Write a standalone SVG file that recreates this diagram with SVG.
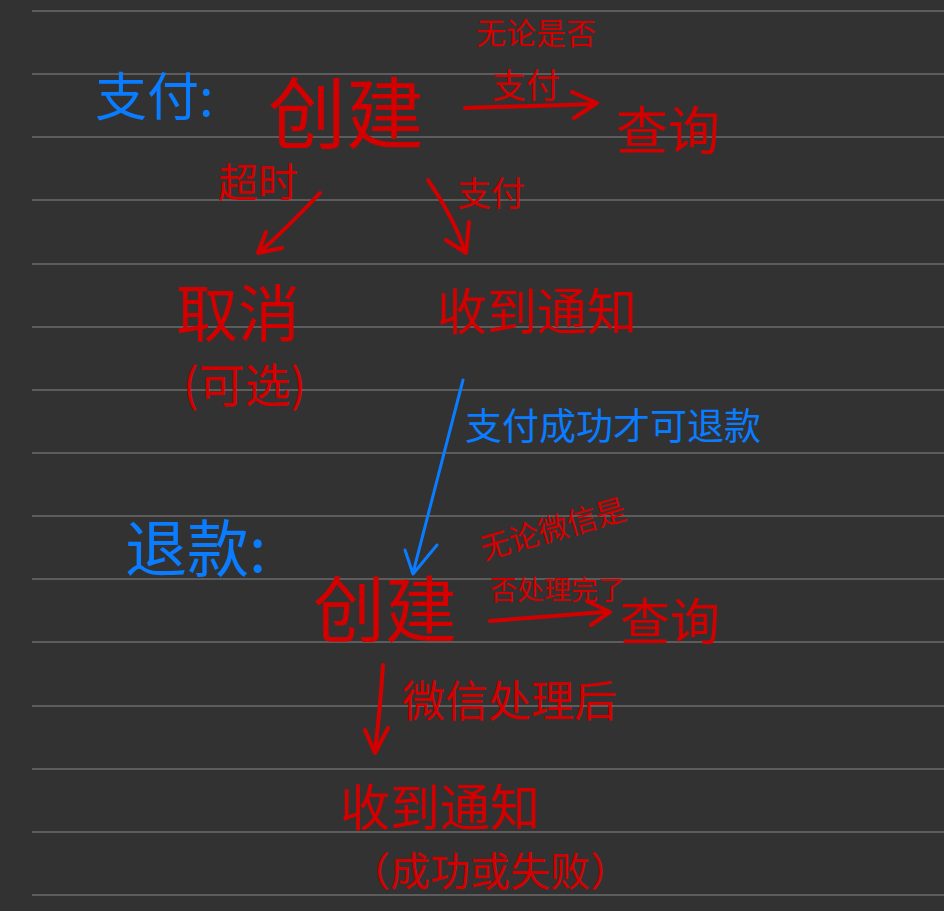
<svg xmlns="http://www.w3.org/2000/svg" width="944" height="911" viewBox="0 0 944 911">
<style>
.t{font-family:"Noto Sans CJK SC","Noto Sans",sans-serif;}
.r{fill:#d40000;}
.b{fill:#0a7cff;}
.rule{stroke:#5c5c5c;stroke-width:2;}
.cr{fill:none;stroke:#d40000;stroke-width:4;stroke-linecap:round;stroke-linejoin:round;}
.cb{fill:none;stroke:#0a7cff;stroke-width:3;stroke-linecap:round;stroke-linejoin:round;}
</style>
<rect width="944" height="911" fill="#323232"/>
<g id="ruling">
<line class="rule" x1="32" y1="11" x2="944" y2="11"/>
<line class="rule" x1="32" y1="74" x2="944" y2="74"/>
<line class="rule" x1="32" y1="137" x2="944" y2="137"/>
<line class="rule" x1="32" y1="200" x2="944" y2="200"/>
<line class="rule" x1="32" y1="264" x2="944" y2="264"/>
<line class="rule" x1="32" y1="327" x2="944" y2="327"/>
<line class="rule" x1="32" y1="390" x2="944" y2="390"/>
<line class="rule" x1="32" y1="453" x2="944" y2="453"/>
<line class="rule" x1="32" y1="516" x2="944" y2="516"/>
<line class="rule" x1="32" y1="579" x2="944" y2="579"/>
<line class="rule" x1="32" y1="642" x2="944" y2="642"/>
<line class="rule" x1="32" y1="706" x2="944" y2="706"/>
<line class="rule" x1="32" y1="769" x2="944" y2="769"/>
<line class="rule" x1="32" y1="832" x2="944" y2="832"/>
<line class="rule" x1="32" y1="895" x2="944" y2="895"/>
</g>
<g id="connectors">
<path class="cr" d="M465,108 L595,104 M572,92 L597,103 L574,118"/>
<path class="cr" d="M320,193 Q290,225 260,252 M266,232 L258,253 L282,248"/>
<path class="cr" d="M428,180 Q455,220 465,252 M446,240 L466,253 L469,222"/>
<path class="cb" d="M463,380 Q440,470 413,573 M405,550 L413,574 L437,545"/>
<path class="cr" d="M490,621 L605,612 M587,601 L610,612 L591,625"/>
<path class="cr" d="M383,665 Q380,710 375,752 M365,730 L375,753 L388,728"/>
</g>
<g id="pay-title"><text class="t b" x="95" y="116" font-size="52">支付:</text></g>
<g id="pay-create"><text class="t r" x="268" y="143" font-size="78">创建</text></g>
<g id="pay-query"><text class="t r" x="616" y="150" font-size="52">查询</text></g>
<g id="pay-label-query">
<text class="t r" x="476" y="44" font-size="30">无论是否</text>
<text class="t r" x="492" y="98" font-size="34">支付</text>
</g>
<g id="pay-label-timeout"><text class="t r" x="218" y="197" font-size="40">超时</text></g>
<g id="pay-label-pay"><text class="t r" x="457" y="206" font-size="34">支付</text></g>
<g id="pay-cancel">
<text class="t r" x="176" y="337" font-size="62">取消</text>
<text class="t r" x="183" y="402" font-size="46">(可选)</text>
</g>
<g id="pay-notify"><text class="t r" x="437" y="330" font-size="50">收到通知</text></g>
<g id="refund-note"><text class="t b" x="465" y="440" font-size="37">支付成功才可退款</text></g>
<g id="refund-title"><text class="t b" x="125" y="572" font-size="62">退款:</text></g>
<g id="refund-create"><text class="t r" x="313" y="636" font-size="72">创建</text></g>
<g id="refund-label-query">
<text class="t r" x="484" y="560" font-size="30" transform="rotate(-16 484 560)">无论微信是</text>
<text class="t r" x="490" y="600" font-size="27">否处理完了</text>
</g>
<g id="refund-query"><text class="t r" x="620" y="640" font-size="50">查询</text></g>
<g id="refund-label-notify"><text class="t r" x="402" y="717" font-size="43">微信处理后</text></g>
<g id="refund-notify">
<text class="t r" x="340" y="826" font-size="50">收到通知</text>
<text class="t r" x="350" y="886" font-size="40">（成功或失败）</text>
</g>
</svg>
